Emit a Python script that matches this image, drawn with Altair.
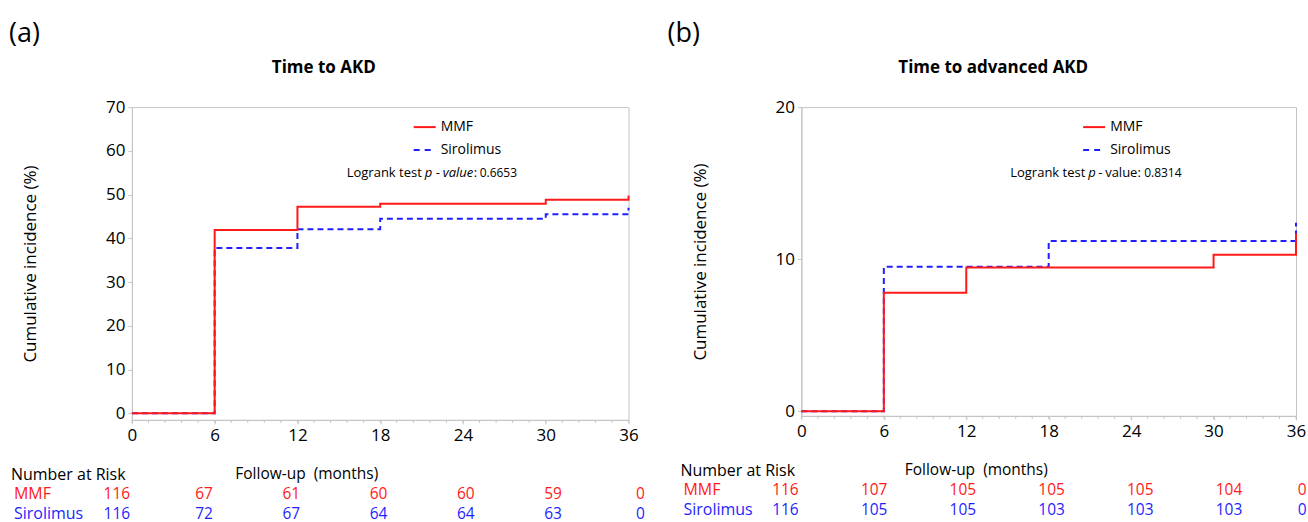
import altair as alt
import pandas as pd

# ---------------- data ----------------
times = [0, 6, 12, 18, 30, 36]
mmf_a = [0, 41.9, 47.2, 47.9, 48.8, 49.8]
siro_a = [0, 37.8, 42.1, 44.5, 45.5, 47.0]
mmf_b = [0, 7.8, 9.45, 9.45, 10.3, 11.7]
siro_b = [0, 9.5, 9.5, 11.2, 11.2, 12.4]

risk_times = [0, 6, 12, 18, 24, 30, 36]
risk_mmf_a = [116, 67, 61, 60, 60, 59, 0]
risk_siro_a = [116, 72, 67, 64, 64, 63, 0]
risk_mmf_b = [116, 107, 105, 105, 105, 104, 0]
risk_siro_b = [116, 105, 105, 103, 103, 103, 0]

x_major = [0, 6, 12, 18, 24, 30, 36]
x_minor = [round(i * 1.2, 1) for i in range(31)]
y_ticks_a = [0, 10, 20, 30, 40, 50, 60, 70]
y_ticks_b = [0, 10, 20]

RED = "#ff1a1a"
BLUE = "#1f1fff"
GREY = "#c4c4c4"
FONT = "Open Sans"
RISK_SIZE = 15.5


def panel(tag, tag_x, title, mmf, siro, rmmf, rsiro, ydom, yticks, W, H,
          logrank, r0, rk, rcap):
    one = pd.DataFrame({"k": [0]})
    df_m = pd.DataFrame({"time": times, "value": mmf})
    df_s = pd.DataFrame({"time": times, "value": siro})

    xenc = alt.X("time:Q", scale=alt.Scale(domain=[0, 36], nice=False, zero=False),
                 axis=alt.Axis(values=x_major, title=None, grid=False, format="d",
                               labelOverlap=False, labelFlush=False,
                               labelFontSize=17, labelColor="black", labelPadding=4,
                               tickSize=4, tickColor=GREY, domainColor=GREY,
                               labelFont=FONT))
    yenc = alt.Y("value:Q", scale=alt.Scale(domain=ydom, nice=False, zero=False),
                 axis=alt.Axis(values=yticks, grid=False, title="Cumulative incidence (%)",
                               labelFontSize=17, labelColor="black", labelFlush=False,
                               labelPadding=3, tickSize=4, tickColor=GREY,
                               domainColor=GREY, labelFont=FONT,
                               titleFont=FONT, titleFontSize=17, titleFontWeight="normal",
                               titleColor="black", titleAngle=-90, titleX=-101,
                               titleY=H / 2, titleAlign="center", titleBaseline="middle"))

    line_s = alt.Chart(df_s).mark_line(interpolate="step-after", strokeWidth=2,
                                       color=BLUE, strokeDash=[6, 4]).encode(x=xenc, y=yenc)
    line_m = alt.Chart(df_m).mark_line(interpolate="step-after", strokeWidth=2,
                                       color=RED).encode(x="time:Q", y="value:Q")

    minor = alt.Chart(pd.DataFrame({"t": x_minor})).mark_rule(
        color=GREY, strokeWidth=1).encode(x="t:Q", y=alt.value(H), y2=alt.value(H + 3))

    base = alt.Chart(one)
    leg_m = base.mark_rule(color=RED, strokeWidth=2).encode(
        x=alt.value(282), x2=alt.value(304), y=alt.value(20))
    leg_s = base.mark_rule(color=BLUE, strokeWidth=2, strokeDash=[6, 5]).encode(
        x=alt.value(282), x2=alt.value(304), y=alt.value(43))

    def txt(s, x, y, size=14, align="left", weight="normal", style="normal",
            color="black", baseline="middle"):
        return base.mark_text(align=align, baseline=baseline, fontSize=size,
                              fontWeight=weight, fontStyle=style, font=FONT,
                              color=color).encode(
            x=alt.value(x), y=alt.value(y), text=alt.value(s))

    texts = [
        txt("MMF", 309, 20),
        txt("Sirolimus", 309, 43),
    ]
    for s, x, size, style in logrank:
        texts.append(txt(s, x, 66, size=size, style=style))
    texts += [
        txt(title, 192, -39, size=17, align="center", weight="bold"),
        txt(tag, tag_x, -73, size=27),
        txt("Follow-up\u00a0 (months)", 175, H + 54, size=15.5, align="center"),
        txt("Number at Risk", -121, H + 55, size=16),
        txt("MMF", -118, H + 74.5, size=16, color=RED),
        txt("Sirolimus", -118, H + 94, size=16, color=BLUE),
    ]

    rdf = pd.DataFrame({"t": risk_times, "mmf": rmmf, "siro": rsiro})
    risk = alt.Chart(rdf).transform_calculate(pos=f"min({r0} + datum.t * {rk}, {rcap})")
    risk_m = risk.mark_text(fontSize=RISK_SIZE, font=FONT, color=RED, baseline="middle").encode(
        x="pos:Q", y=alt.value(H + 74.5), text="mmf:Q")
    risk_s = risk.mark_text(fontSize=RISK_SIZE, font=FONT, color=BLUE, baseline="middle").encode(
        x="pos:Q", y=alt.value(H + 94), text="siro:Q")

    return alt.layer(line_s, line_m, minor, leg_m, leg_s, *texts, risk_m, risk_s).properties(
        width=W, height=H)


logrank_a = [("Logrank test", 215, 13, "normal"), ("p", 293, 13, "italic"),
             ("-", 304, 13, "normal"), ("value", 311, 13, "italic"),
             (":", 342, 13, "normal"), ("0.6653", 348, 12, "normal")]
logrank_b = [("Logrank test", 209, 13, "normal"), ("p", 287, 13, "italic"),
             ("-", 297, 13, "normal"), ("value:", 304, 13, "normal"),
             ("0.8314", 343, 12, "normal")]

pa = panel("(a)", -123, "Time to AKD", mmf_a, siro_a, risk_mmf_a, risk_siro_a,
           [-1.5, 70], y_ticks_a, 497, 313, logrank_a, -1.09, 1.054, 40)
pb = panel("(b)", -134, "Time to advanced AKD", mmf_b, siro_b, risk_mmf_b, risk_siro_b,
           [-0.3, 20], y_ticks_b, 495, 309, logrank_b, -1.16, 1.076, 36.45)

chart = alt.hconcat(pa, pb, spacing=173, bounds="flush").properties(
    padding={"left": 8, "top": 19, "right": 0, "bottom": 0},
    background="white",
).configure_view(stroke=GREY, strokeWidth=1).configure_axis(labelFont=FONT)

chart.save("out.html", embed_options={"renderer": "svg", "actions": False})
